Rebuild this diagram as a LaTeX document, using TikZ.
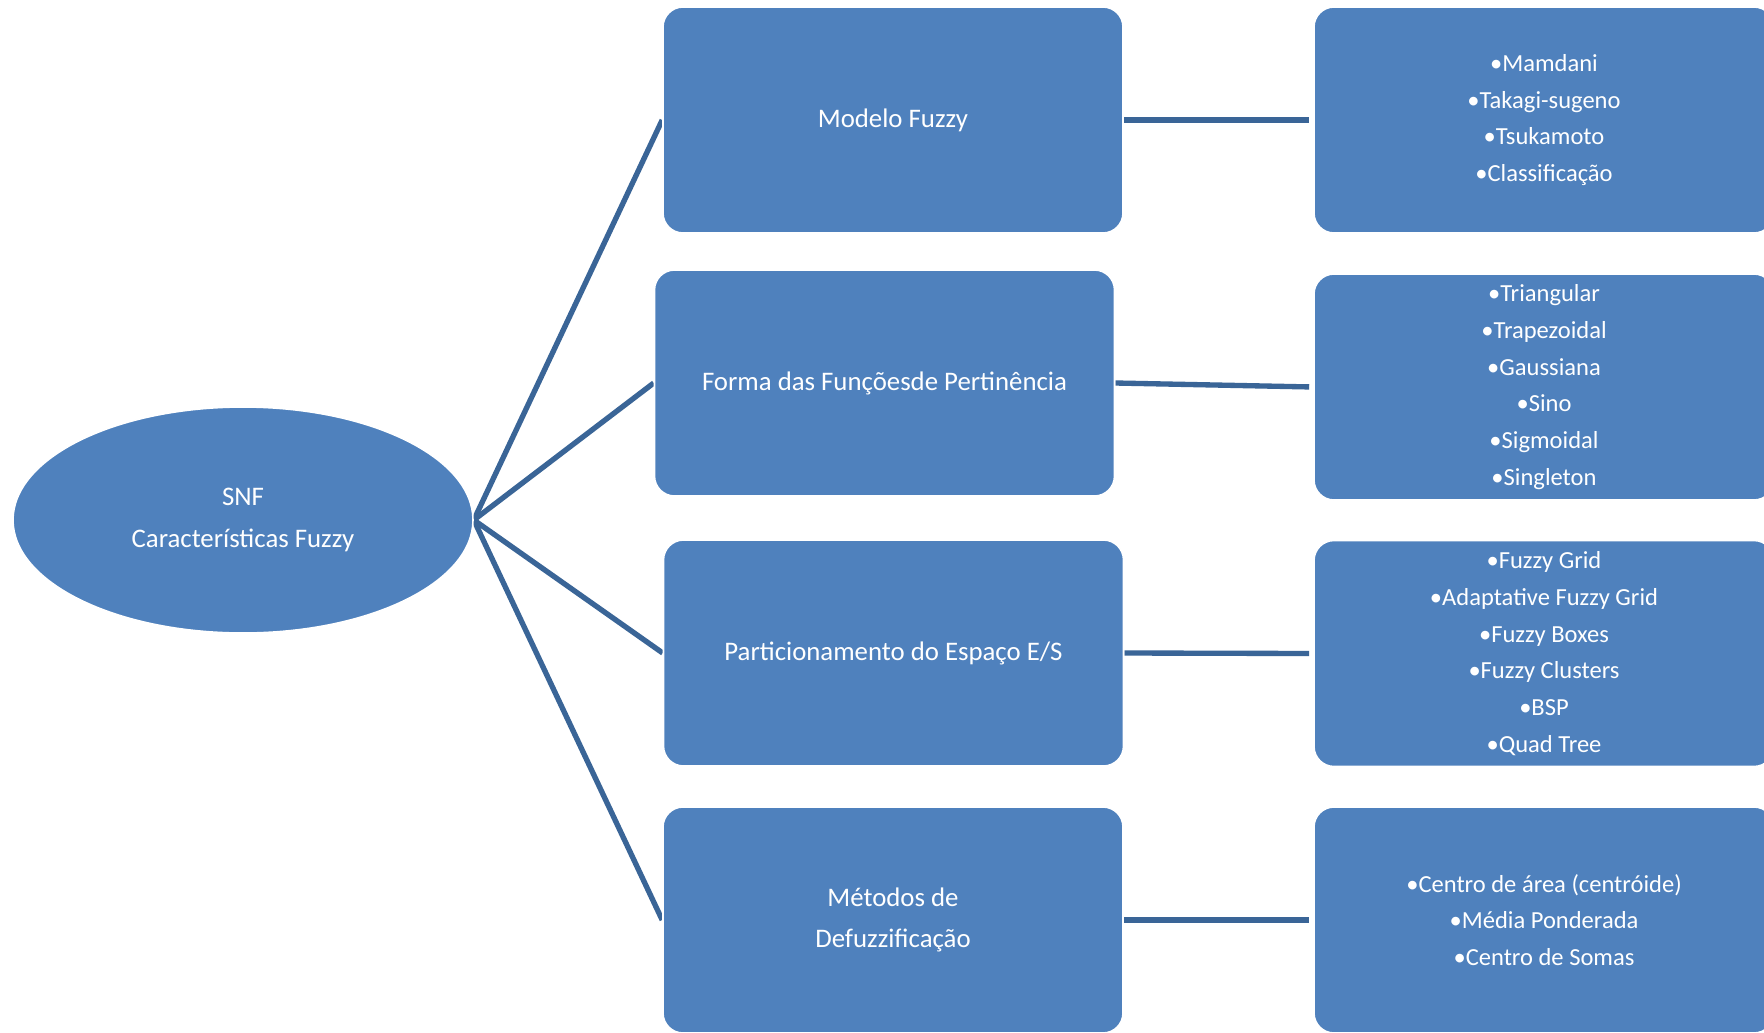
\documentclass[tikz,border=0pt]{standalone}
\usepackage{fontspec}
\setmainfont{Carlito}
\usetikzlibrary{shapes.geometric}
\definecolor{boxblue}{HTML}{4F81BD}
\definecolor{linkblue}{HTML}{3A6597}
\pgfdeclarelayer{bg}
\pgfsetlayers{bg,main}
\begin{document}
\begin{tikzpicture}[x=0.75pt,y=-0.75pt,
  boxbase/.style={fill=boxblue,draw=white,line width=1.2pt,text=white,align=center,
    inner sep=0pt,minimum height=169.5pt},
  mainbox/.style={boxbase,rounded corners=15pt,minimum width=345pt,
    font=\fontsize{20.1}{31}\selectfont},
  listbox/.style={boxbase,rounded corners=15pt,minimum width=345pt,
    font=\fontsize{18.4}{27.5}\selectfont},
  rootnode/.style={boxbase,ellipse,minimum width=345pt,minimum height=169.5pt,
    font=\fontsize{20.1}{31}\selectfont},
  link/.style={draw=linkblue,line width=4pt}]
\clip (0,0) rectangle (1764,1032);

% root ellipse
\node[rootnode] (root) at (243,520) {SNF\\Características Fuzzy};

% middle column
\node[mainbox] (m1) at (893,120) {Modelo Fuzzy};
\node[mainbox] (m2) at (884.5,383) {Forma das Funçõesde Pertinência};
\node[mainbox] (m3) at (893.5,653) {Particionamento do Espaço E/S};
\node[mainbox] (m4) at (893,920) {Métodos de\\Defuzzificação};

% right column
\node[listbox] (r1) at (1544,120) {•Mamdani\\•Takagi-sugeno\\•Tsukamoto\\•Classificação};
\node[listbox] (r2) at (1544,387) {•Triangular\\•Trapezoidal\\•Gaussiana\\•Sino\\•Sigmoidal\\•Singleton};
\node[listbox] (r3) at (1544,653.5) {•Fuzzy Grid\\•Adaptative Fuzzy Grid\\•Fuzzy Boxes\\•Fuzzy Clusters\\•BSP\\•Quad Tree};
\node[listbox] (r4) at (1544,920) {•Centro de área (centróide)\\•Média Ponderada\\•Centro de Somas};

% white page and connectors, behind the shapes
\begin{pgfonlayer}{bg}
\fill[white] (0,0) rectangle (1764,1032);
\foreach \m in {m1,m2,m3,m4}
  \draw[link] (root.east) -- (\m.west);
\draw[link,shorten >=3pt] (m1.east) -- (r1.west);
\draw[link,shorten >=3pt] (m2.east) -- (r2.west);
\draw[link,shorten >=3pt] (m3.east) -- (r3.west);
\draw[link,shorten >=3pt] (m4.east) -- (r4.west);
\end{pgfonlayer}
\end{tikzpicture}
\end{document}
